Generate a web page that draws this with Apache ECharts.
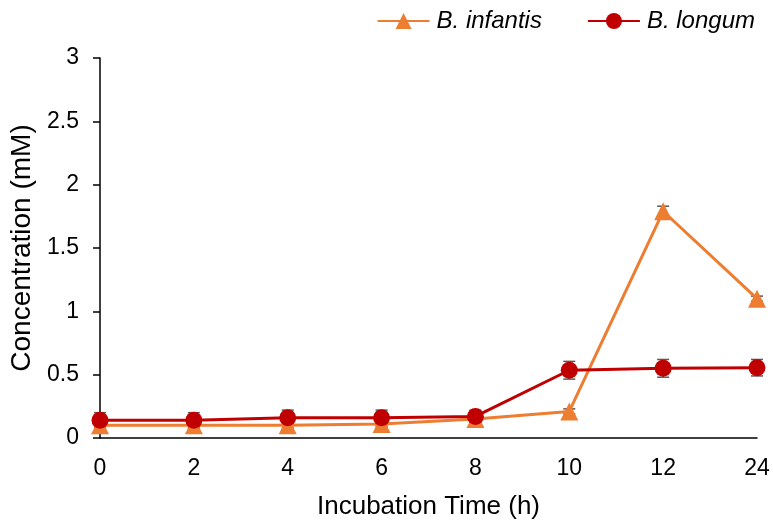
<!DOCTYPE html>
<html><head><meta charset="utf-8">
<script src="https://cdn.jsdelivr.net/npm/echarts@6/dist/echarts.min.js"></script>
<style>html,body{margin:0;padding:0;background:#fff}#c{width:773px;height:525px}</style>
</head><body><div id="c"></div>
<script>
const categories = ['0','2','4','6','8','10','12','24'];
const infantis = [0.10, 0.10, 0.10, 0.11, 0.15, 0.21, 1.79, 1.10];
const infantisErr = [0.02, 0.02, 0.02, 0.02, 0.02, 0.02, 0.04, 0.02];
const longum = [0.14, 0.14, 0.16, 0.16, 0.17, 0.535, 0.55, 0.555];
const longumErr = [0.06, 0.06, 0.06, 0.06, 0.05, 0.07, 0.07, 0.065];
const yTicks = [0, 0.5, 1, 1.5, 2, 2.5, 3];

function errSeries(vals, errs) {
  return {
    type: 'custom', z: 1, silent: true,
    data: vals.map((v, i) => [i, v - errs[i], v + errs[i]]),
    renderItem: function (params, api) {
      const lo = api.coord([api.value(0), api.value(1)]);
      const hi = api.coord([api.value(0), api.value(2)]);
      const w = 6;
      const st = { stroke: '#595959', lineWidth: 1.5 };
      return { type: 'group', children: [
        { type: 'line', shape: { x1: lo[0], y1: lo[1], x2: hi[0], y2: hi[1] }, style: st },
        { type: 'line', shape: { x1: lo[0]-w, y1: lo[1], x2: lo[0]+w, y2: lo[1] }, style: st },
        { type: 'line', shape: { x1: hi[0]-w, y1: hi[1], x2: hi[0]+w, y2: hi[1] }, style: st }
      ]};
    }
  };
}

const FONT = 'Liberation Sans, Arial, sans-serif';
const chart = echarts.init(document.getElementById('c'));
chart.setOption({
  animation: false,
  textStyle: { fontFamily: FONT },
  grid: { left: 100, right: 16, top: 58, bottom: 85 },
  legend: {
    data: ['B. infantis', 'B. longum'],
    right: 13, top: 4, itemWidth: 52, itemHeight: 20, itemGap: 45,
    textStyle: { fontSize: 24, fontStyle: 'italic', color: '#000', fontFamily: FONT, padding: [0, 0, 0, 2] }
  },
  xAxis: {
    type: 'category', data: categories, boundaryGap: false,
    name: 'Incubation Time (h)', nameLocation: 'middle', nameGap: 56,
    nameTextStyle: { fontSize: 26, color: '#000' },
    axisLine: { lineStyle: { color: '#000', width: 1.5 } },
    axisTick: { show: false },
    axisLabel: { fontSize: 23, color: '#000', margin: 19 }
  },
  yAxis: {
    type: 'value', min: 0, max: 3, interval: 0.5,
    name: 'Concentration (mM)', nameLocation: 'middle', nameGap: 63,
    nameTextStyle: { fontSize: 28, color: '#000' },
    axisLine: { show: true, lineStyle: { color: '#000', width: 1.5 } },
    axisTick: { show: true, length: 7, lineStyle: { color: '#000', width: 1.5 } },
    splitLine: { show: false },
    axisLabel: { fontSize: 23, color: '#000', margin: 21, formatter: v => yTicks.includes(v) ? String(v) : '' }
  },
  series: [
    errSeries(infantis, infantisErr),
    errSeries(longum, longumErr),
    {
      name: 'B. infantis', type: 'line', data: infantis, z: 3,
      symbol: 'triangle', symbolSize: 18,
      lineStyle: { color: '#ED7D31', width: 3 },
      itemStyle: { color: '#ED7D31' }
    },
    {
      name: 'B. longum', type: 'line', data: longum, z: 4,
      symbol: 'circle', symbolSize: 17,
      lineStyle: { color: '#C00000', width: 3 },
      itemStyle: { color: '#C00000' }
    }
  ]
});
</script></body></html>
